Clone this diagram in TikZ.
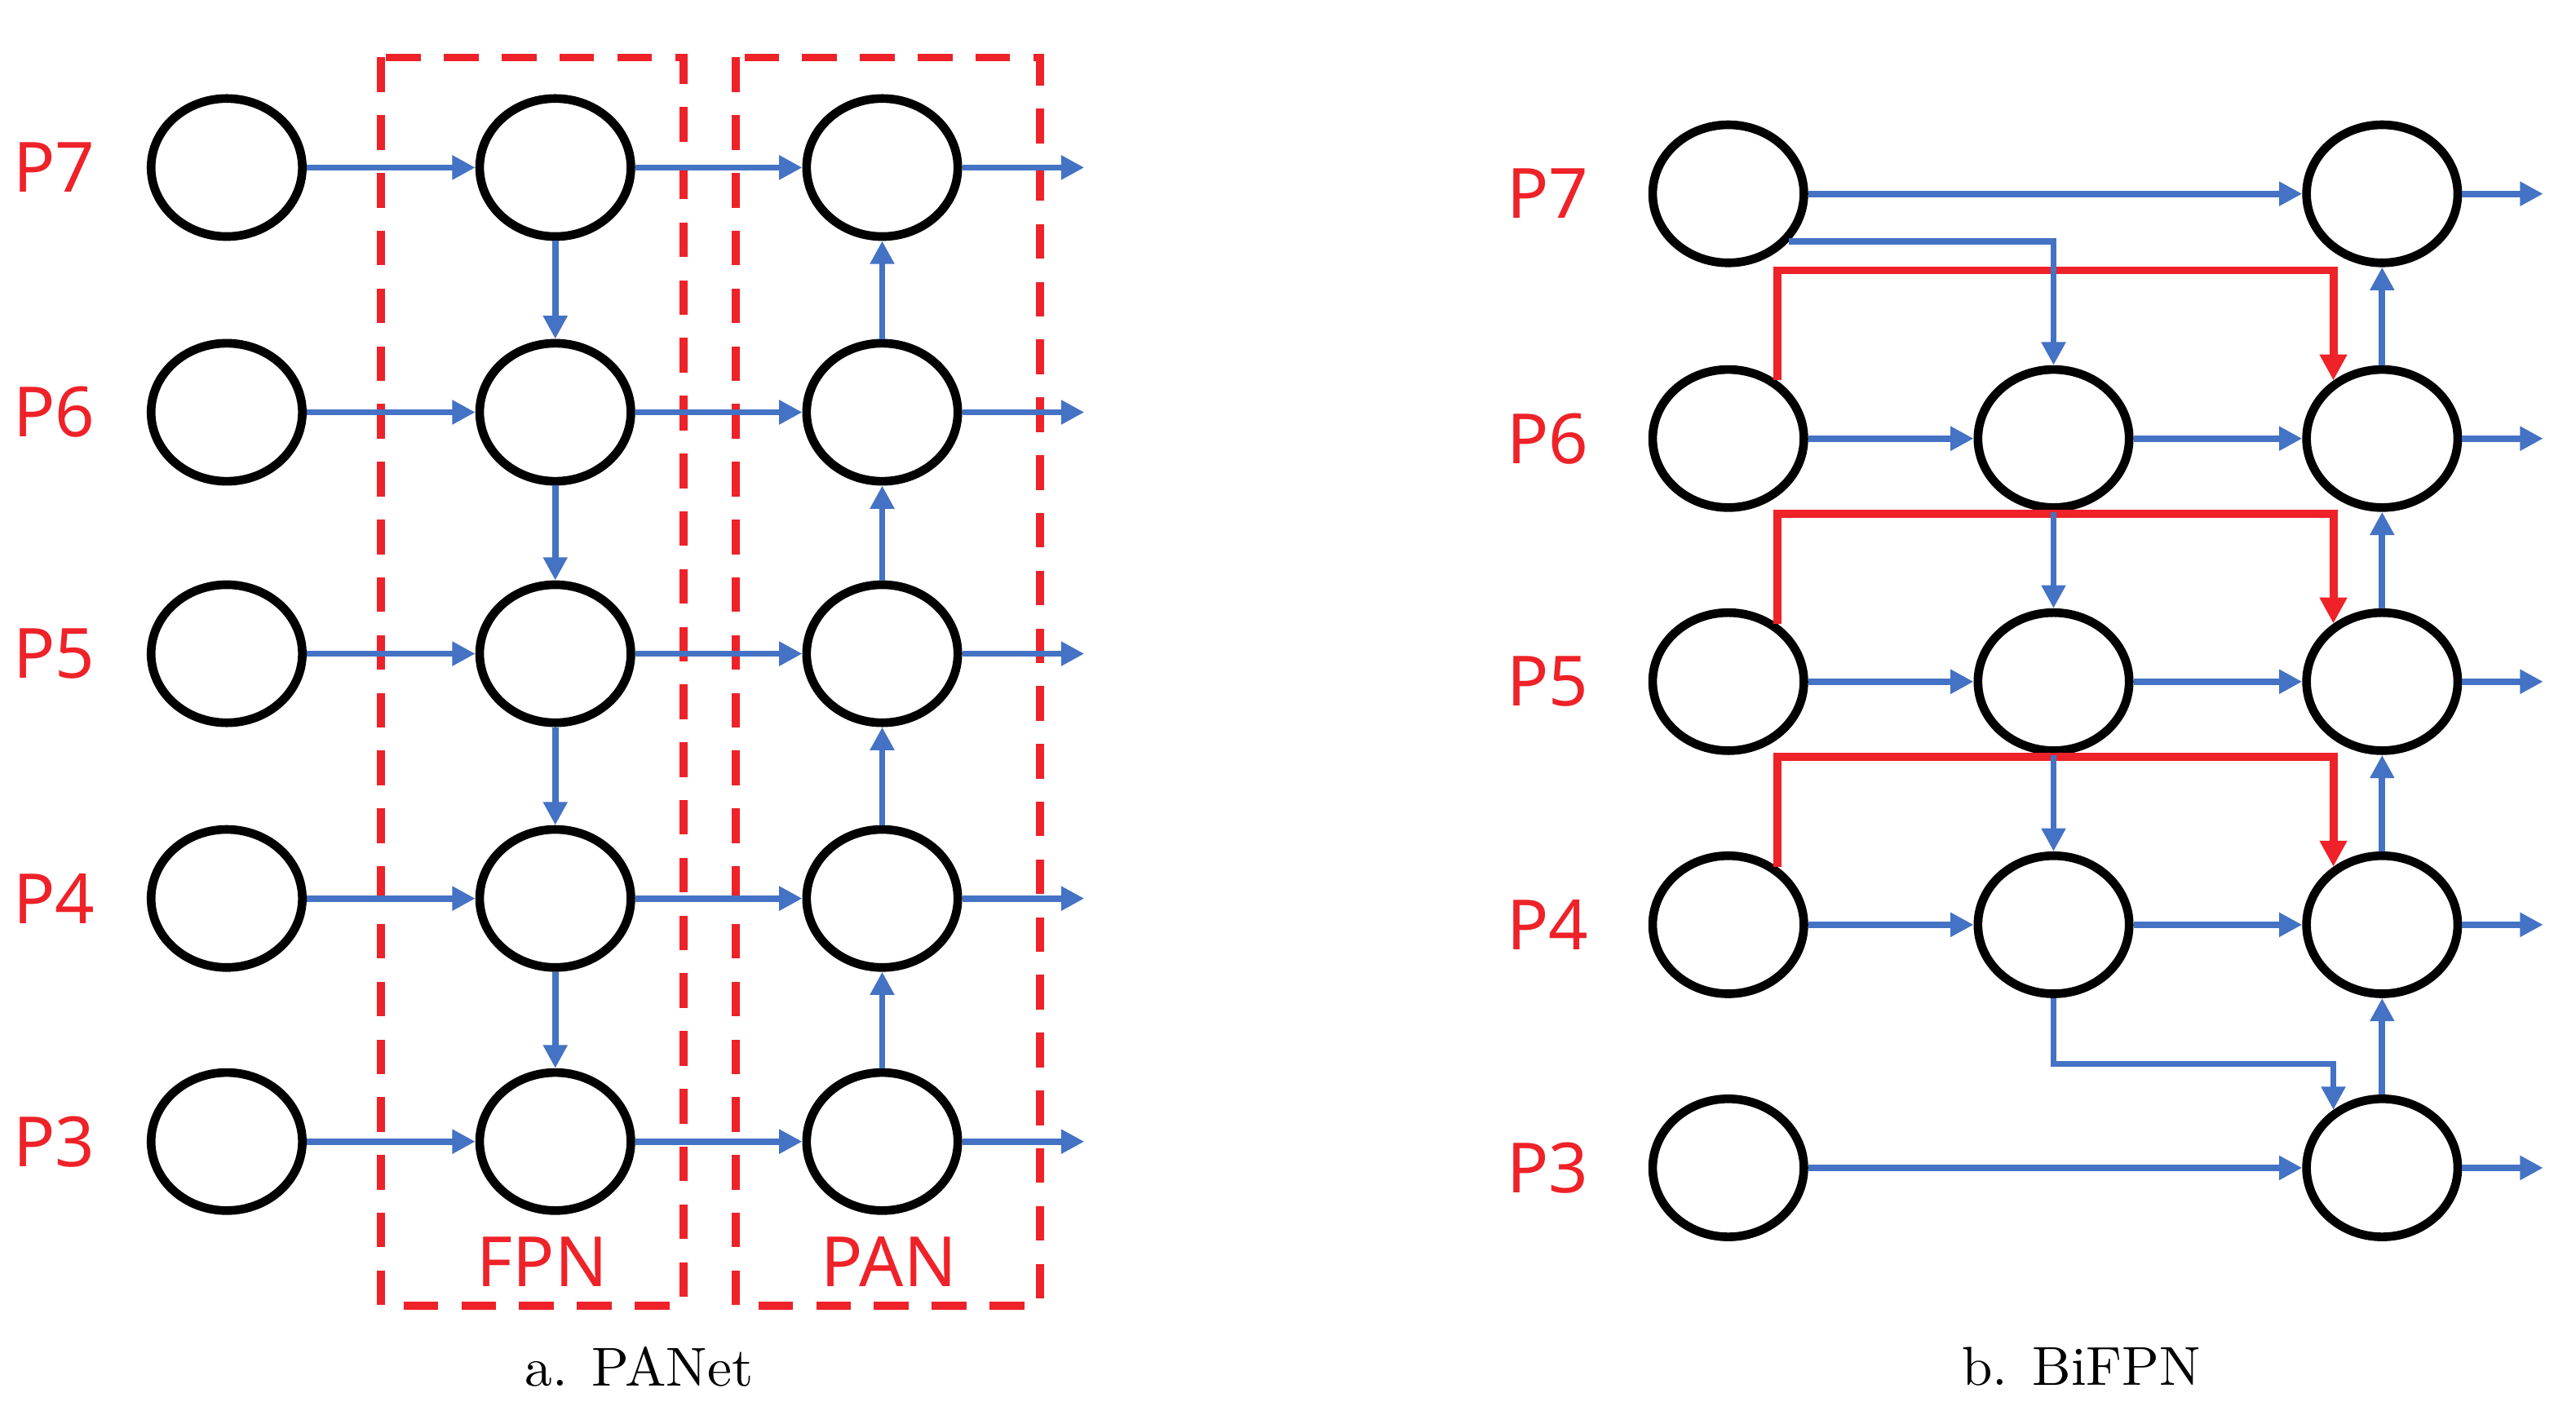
\documentclass[tikz,border=0pt]{standalone}
\usepackage{fontspec}
\newfontfamily\lab{Noto Sans}
\usetikzlibrary{arrows.meta,calc,shapes.geometric}
\definecolor{bl}{RGB}{68,114,196}
\definecolor{rd}{RGB}{238,34,40}
\begin{document}
\begin{tikzpicture}[x=0.01cm,y=-0.01cm,
 c/.style={draw=black,line width=1.5pt,ellipse,minimum width=0.92cm,minimum height=0.84cm,inner sep=0pt},
 ar/.style={draw=bl,line width=1.1pt,-{Triangle[length=4pt,width=4pt]}},
 ra/.style={draw=rd,line width=1.4pt,-{Triangle[length=4.5pt,width=4.5pt]}},
 pl/.style={text=rd,font=\lab\bfseries\fontsize{12}{14}\selectfont},
 box/.style={draw=rd,line width=1.4pt,dash pattern=on 6pt off 4pt},
 captxt/.style={font=\fontsize{9.5}{11}\selectfont}]
\useasboundingbox (0,0) rectangle (1568,861);
% left panel
\draw[box] (232,35) rectangle (416,795);
\draw[box] (448,35) rectangle (633,795);
\node[pl] at (330,768) {FPN};
\node[pl] at (541,768) {PAN};
\foreach \n/\y in {7/102,6/251,5/398,4/547,3/695}{
 \node[pl] (L\n) at (33,\y) {P\n};
 \node[c] (a\n) at (138,\y) {};
 \node[c] (b\n) at (338,\y) {};
 \node[c] (p\n) at (537,\y) {};
 \coordinate (o\n) at (660,\y);
 \draw[ar] (a\n) -- (b\n);
 \draw[ar] (b\n) -- (p\n);
 \draw[ar] (p\n) -- (o\n);
}
\foreach \u/\d in {7/6,6/5,5/4,4/3}{
 \draw[ar] (b\u) -- (b\d);
 \draw[ar] (p\d) -- (p\u);
}
\node[captxt] at (389,832) {a. PANet};
% right panel
\foreach \n/\y in {7/118,6/267,5/415,4/563,3/711}{
 \node[pl] (R\n) at (942,\y) {P\n};
 \node[c] (x\n) at (1052,\y) {};
 \node[c] (z\n) at (1450,\y) {};
 \coordinate (q\n) at (1548,\y);
 \draw[ar] (z\n) -- (q\n);
}
\foreach \n/\y in {6/267,5/415,4/563}{
 \node[c] (y\n) at (1250,\y) {};
 \draw[ar] (x\n) -- (y\n);
 \draw[ar] (y\n) -- (z\n);
 \draw[ra] (x\n.50) -- ++(0,-67) -| (z\n.130);
}
\draw[ar] (x7) -- (z7);
\draw[ar] (x3) -- (z3);
\draw[ar] (x7.-38) -| (y6.north);
\draw[ar] (y6) -- (y5);
\draw[ar] (y5) -- (y4);
\draw[ar] (y4.south) -- ++(0,40) -| (z3.130);
\foreach \u/\d in {7/6,6/5,5/4,4/3}{
 \draw[ar] (z\d) -- (z\u);
}
\node[captxt] at (1267,832) {b. BiFPN};
\end{tikzpicture}
\end{document}
